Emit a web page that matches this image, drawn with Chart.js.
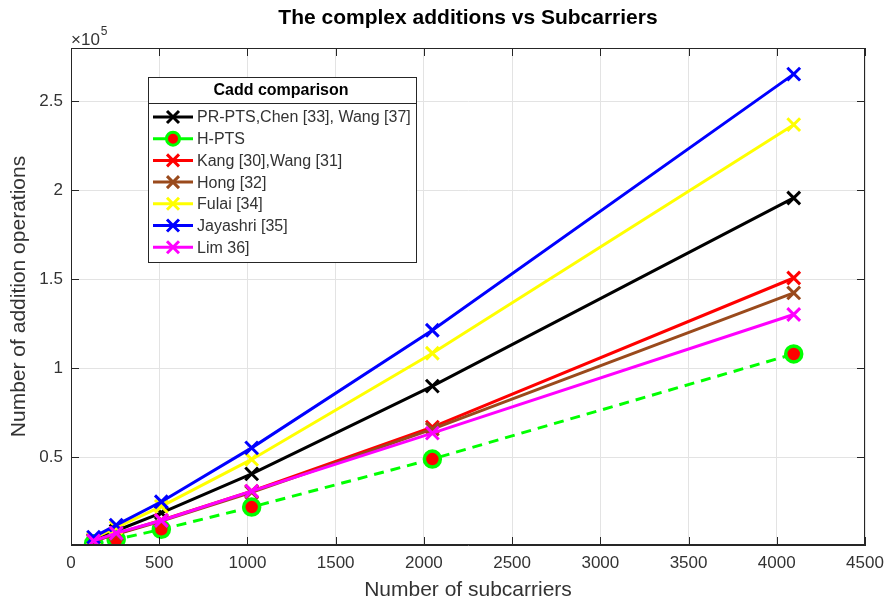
<!DOCTYPE html>
<html>
<head>
<meta charset="utf-8">
<script src="https://cdn.jsdelivr.net/npm/chart.js@4"></script>
<style>
  html, body { margin: 0; padding: 0; background: #fff; }
  #wrap { width: 886px; height: 603px; }
</style>
</head>
<body>
<div id="wrap"><canvas id="chart"></canvas></div>
<script>
// subcarrier counts and operation counts
const subcarriers = [128, 256, 512, 1024, 2048, 4096];
const prPts    = [3700, 8600, 18700, 40600, 89900, 195700];
const hPts     = [1300, 3700, 9400, 21900, 48900, 108000];
const kang     = [2900, 6800, 14600, 30800, 66900, 150700];
const hong     = [2800, 6600, 14100, 30200, 65700, 142300];
const fulai    = [4400, 10400, 22300, 48700, 108400, 236900];
const jayashri = [5000, 11800, 24900, 55200, 121300, 265300];
const lim      = [2900, 7300, 14400, 30900, 63500, 130200];

const xTicks = [0, 500, 1000, 1500, 2000, 2500, 3000, 3500, 4000, 4500];
const yTicks = [50000, 100000, 150000, 200000, 250000];

const FONT = '"Liberation Sans", Arial, sans-serif';
const TXT = '#333333';

function pts(arr) {
    return arr.map((v, i) => ({ x: subcarriers[i], y: v }));
}

function crossSet(label, color, values, idx) {
    return {
        label: label,
        data: pts(values),
        borderColor: color,
        backgroundColor: color,
        borderWidth: 3,
        pointStyle: 'crossRot',
        pointRadius: 9,
        pointBorderWidth: 3,
        pointBorderColor: color,
        order: 10 - idx
    };
}

const datasets = [
    crossSet('PR-PTS,Chen [33], Wang [37]', '#000000', prPts, 0),
    {
        label: 'H-PTS',
        data: pts(hPts),
        borderColor: '#00ff00',
        backgroundColor: '#ff0000',
        borderWidth: 3,
        borderDash: [10, 7],
        pointStyle: 'circle',
        pointRadius: 8,
        pointBorderWidth: 3.5,
        pointBorderColor: '#00ff00',
        pointBackgroundColor: '#ff0000',
        order: 9
    },
    crossSet('Kang [30],Wang [31]', '#ff0000', kang, 2),
    crossSet('Hong [32]', '#9a4a1c', hong, 3),
    crossSet('Fulai [34]', '#ffff00', fulai, 4),
    crossSet('Jayashri [35]', '#0000ff', jayashri, 5),
    crossSet('Lim 36]', '#ff00ff', lim, 6)
];

// box, inward ticks, title, exponent and the legend panel
const matlabLook = {
    id: 'matlabLook',
    afterDraw(chart) {
        const ctx = chart.ctx;
        const a = chart.chartArea;
        const xs = chart.scales.x, ys = chart.scales.y;
        ctx.save();

        ctx.strokeStyle = '#262626';
        ctx.lineWidth = 1;
        ctx.strokeRect(Math.round(a.left) + 0.5, Math.round(a.top) + 0.5,
            Math.round(a.width) - 1, Math.round(a.height) - 1);

        ctx.beginPath();
        xTicks.forEach(v => {
            const px = Math.round(xs.getPixelForValue(v)) + 0.5;
            ctx.moveTo(px, a.bottom); ctx.lineTo(px, a.bottom - 8);
            ctx.moveTo(px, a.top); ctx.lineTo(px, a.top + 8);
        });
        yTicks.forEach(v => {
            const py = Math.round(ys.getPixelForValue(v)) + 0.5;
            ctx.moveTo(a.left, py); ctx.lineTo(a.left + 8, py);
            ctx.moveTo(a.right, py); ctx.lineTo(a.right - 8, py);
        });
        ctx.stroke();

        // title
        ctx.fillStyle = '#000';
        ctx.font = 'bold 21px ' + FONT;
        ctx.textAlign = 'center';
        ctx.textBaseline = 'middle';
        ctx.fillText('The complex additions vs Subcarriers', (a.left + a.right) / 2, 18);

        // exponent
        ctx.fillStyle = TXT;
        ctx.font = '17px ' + FONT;
        ctx.textAlign = 'left';
        ctx.fillText('\u00d710', 71, 40);
        const w = ctx.measureText('\u00d710').width;
        ctx.font = '12px ' + FONT;
        ctx.fillText('5', 71 + w + 1, 32);

        // legend
        const L = { x: 148, y: 77, w: 268, h: 185 };
        ctx.fillStyle = '#fff';
        ctx.fillRect(L.x, L.y, L.w, L.h);
        ctx.strokeStyle = '#262626';
        ctx.lineWidth = 1;
        ctx.strokeRect(L.x + 0.5, L.y + 0.5, L.w, L.h);
        ctx.beginPath();
        ctx.moveTo(L.x, L.y + 26.5); ctx.lineTo(L.x + L.w, L.y + 26.5);
        ctx.stroke();
        ctx.fillStyle = '#000';
        ctx.font = 'bold 16px ' + FONT;
        ctx.textAlign = 'center';
        ctx.fillText('Cadd comparison', L.x + L.w / 2 - 1, L.y + 14);

        chart.data.datasets.forEach((ds, i) => {
            const cy = 117 + i * 21.7;
            ctx.save();
            ctx.strokeStyle = ds.borderColor;
            ctx.lineWidth = 3;
            ctx.setLineDash([]);
            ctx.beginPath();
            ctx.moveTo(153, cy); ctx.lineTo(193, cy);
            ctx.stroke();
            if (ds.pointStyle === 'circle') {
                ctx.beginPath();
                ctx.arc(173, cy, 6.5, 0, Math.PI * 2);
                ctx.fillStyle = ds.pointBackgroundColor;
                ctx.fill();
                ctx.lineWidth = 3;
                ctx.strokeStyle = ds.pointBorderColor;
                ctx.stroke();
            } else {
                ctx.lineWidth = 3;
                ctx.beginPath();
                ctx.moveTo(167, cy - 6); ctx.lineTo(179, cy + 6);
                ctx.moveTo(167, cy + 6); ctx.lineTo(179, cy - 6);
                ctx.stroke();
            }
            ctx.restore();
            ctx.fillStyle = TXT;
            ctx.font = '16px ' + FONT;
            ctx.textAlign = 'left';
            ctx.textBaseline = 'middle';
            ctx.fillText(ds.label, 197, cy + 1);
        });

        ctx.restore();
    }
};

new Chart(document.getElementById('chart'), {
    type: 'line',
    data: { datasets: datasets },
    options: {
        responsive: true,
        maintainAspectRatio: false,
        animation: false,
        layout: { padding: { top: 48, right: 21, left: 0, bottom: 0 } },
        plugins: {
            legend: { display: false },
            title: { display: false },
            tooltip: { enabled: false }
        },
        scales: {
            x: {
                type: 'linear',
                min: 0,
                max: 4500,
                afterBuildTicks: s => { s.ticks = xTicks.map(v => ({ value: v })); },
                afterFit: s => { s.height = 58; s.paddingRight = 0; s.paddingLeft = 0; },
                grid: { color: '#e3e3e3', drawTicks: false },
                border: { color: '#262626' },
                ticks: { color: TXT, font: { family: FONT, size: 17 }, padding: 8, maxRotation: 0,
                         callback: v => String(v) },
                title: { display: true, text: 'Number of subcarriers', color: TXT,
                         font: { family: FONT, size: 21 }, padding: { top: 0, bottom: 0 } }
            },
            y: {
                type: 'linear',
                min: 600,
                max: 280000,
                afterBuildTicks: s => { s.ticks = yTicks.map(v => ({ value: v })); },
                afterFit: s => { s.width = 71; s.paddingTop = 0; s.paddingBottom = 0; },
                grid: { color: '#e3e3e3', drawTicks: false },
                border: { color: '#262626' },
                ticks: { color: TXT, font: { family: FONT, size: 17 }, padding: 8,
                         callback: v => String(v / 100000) },
                title: { display: true, text: 'Number of addition operations', color: TXT,
                         font: { family: FONT, size: 21 }, padding: { top: 7, bottom: 0 } }
            }
        }
    },
    plugins: [matlabLook]
});
</script>
</body>
</html>
